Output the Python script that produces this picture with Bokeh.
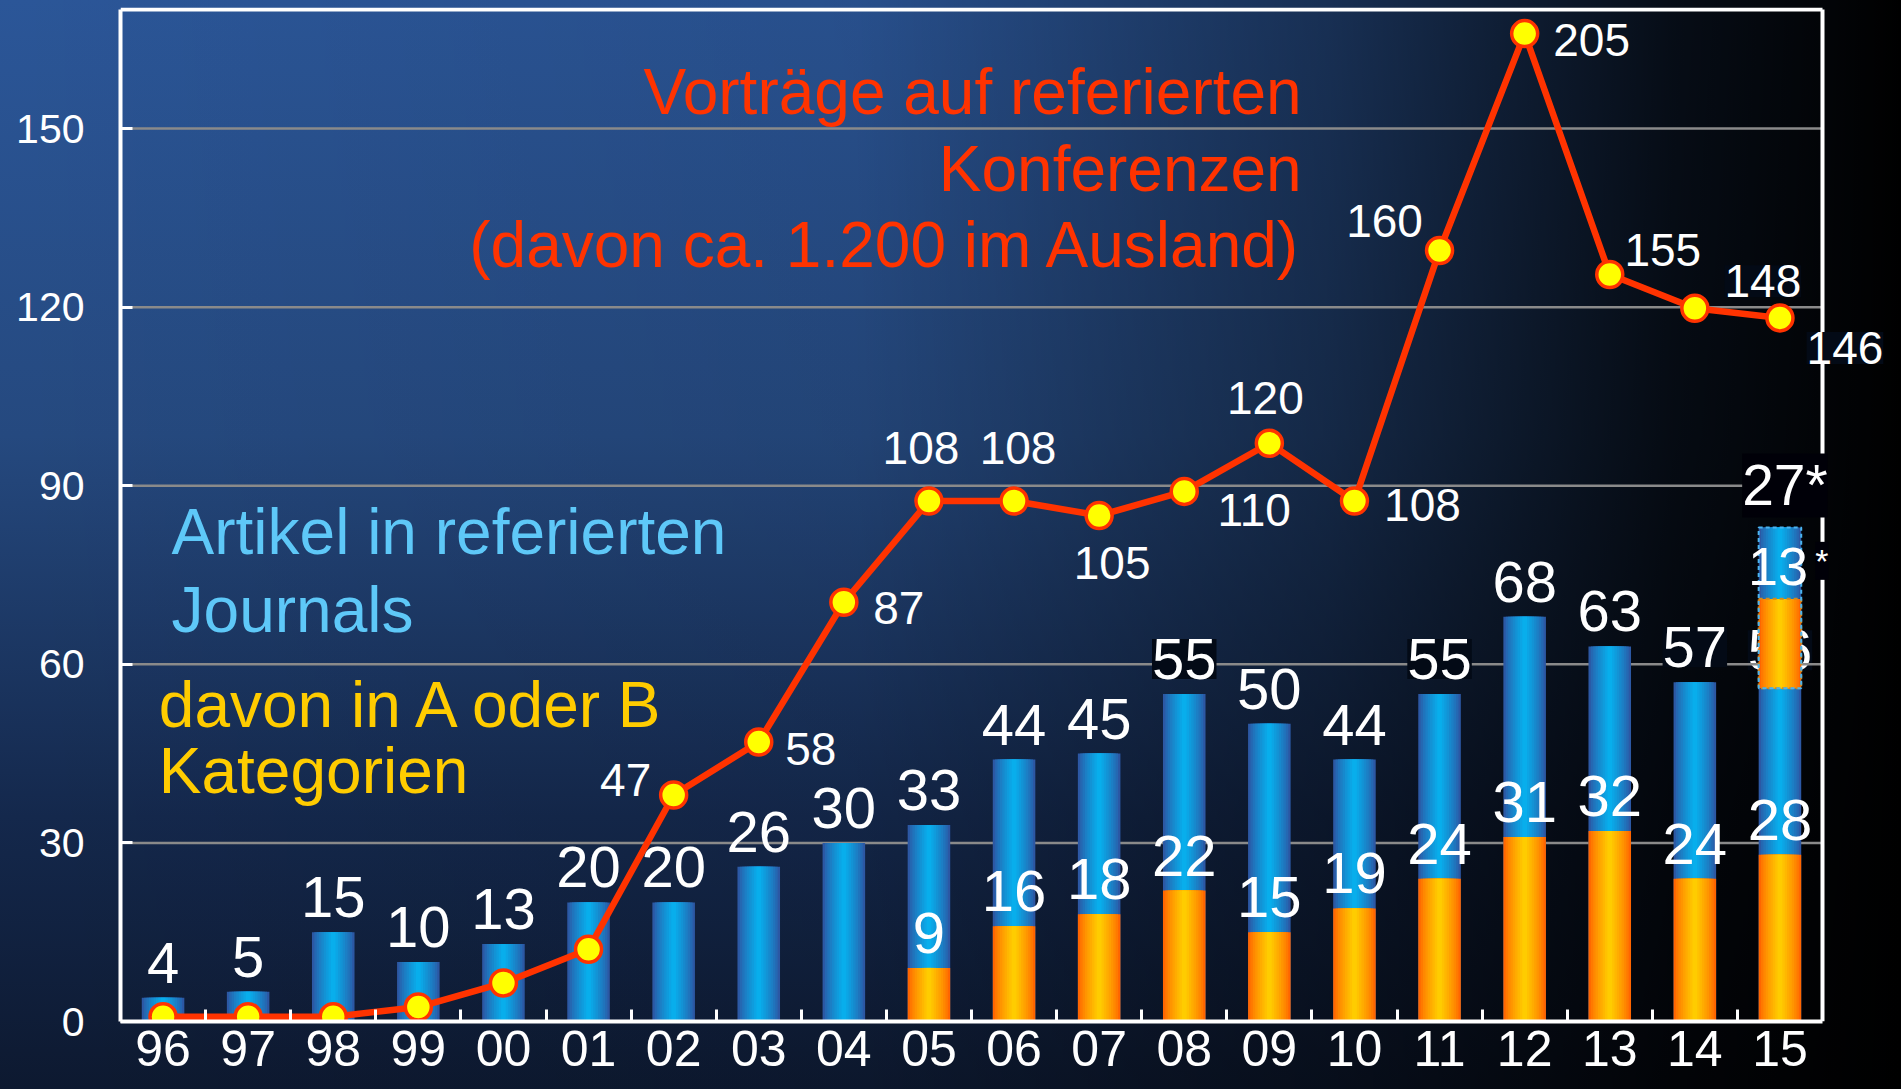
from bokeh.plotting import figure
from bokeh.models import ColumnDataSource, Range1d, FixedTicker, LabelSet
from bokeh.core.properties import value
from bokeh.embed import file_html
from bokeh.resources import INLINE

# ---------------- data ----------------
years = ["96", "97", "98", "99", "00", "01", "02", "03", "04", "05",
         "06", "07", "08", "09", "10", "11", "12", "13", "14", "15"]
articles = [4, 5, 15, 10, 13, 20, 20, 26, 30, 33, 44, 45, 55, 50, 44, 55, 68, 63, 57, 56]
articles_ab = [0, 0, 0, 0, 0, 0, 0, 0, 0, 9, 16, 18, 22, 15, 19, 24, 31, 32, 24, 28]
talks = [1, 1, 1, 3, 8, 15, 47, 58, 87, 108, 108, 105, 110, 120, 108, 160, 205, 155, 148, 146]
talk_labels = ["", "", "", "", "", "", "47", "58", "87", "108", "108", "105", "110",
               "120", "108", "160", "205", "155", "148", "146"]
proj_ab_extra = 15      # dashed orange segment on the 2015 bar
proj_rest_extra = 12    # dashed blue segment on the 2015 bar
proj_total_label = "27*"
proj_ab_label = "13*"
y_ticks = [0, 30, 60, 90, 120, 150]
y_max = 170
conf_max = 210

conf_title = ["Vorträge auf referierten", "Konferenzen", "(davon ca. 1.200 im Ausland)"]
art_title = ["Artikel in referierten", "Journals"]
ab_title = ["davon in A oder B", "Kategorien"]

# ---------------- style ----------------
FONT = value("Liberation Sans")
BAR_W = 0.5
BLUE_EDGE, BLUE_CENTER = (0x2c, 0x58, 0xa4), (0x08, 0xae, 0xec)
ORANGE_EDGE, ORANGE_CENTER = (0xff, 0x66, 0x00), (0xff, 0xcc, 0x00)
RED = "#ff3300"

# label placement (screen px offsets, style only)
talk_dx = [0, 0, 0, 0, 0, 0, -48, 52, 55, -8, 4, 13, 70, -4, 68, -55, 67, 53, 68, 65]
talk_dy = [0, 0, 0, 0, 0, 0, 15, -7, -6, 53, 53, -47, -19, 45, -4, 29, -6, 25, 27, -30]
talk_bg = [0, 0, 0, 0, 0, 0, 0, 0, 0, 0, 0, 0, 0, 0, 0, 0, 0, 0, 1, 1]
art_bg = [0, 0, 0, 0, 0, 0, 0, 0, 0, 0, 0, 0, 1, 0, 0, 1, 0, 0, 1, 1]

n = len(years)
xs = list(range(n))
last = n - 1

PX_PER_X = 85.1          # frame px per category
EXTRA_RIGHT = 79 / PX_PER_X   # room right of the white border for labels
PX_PER_Y = 1012 / y_max

p = figure(width=1901, height=1089,
           x_range=Range1d(-0.5, n - 0.5 + EXTRA_RIGHT),
           y_range=Range1d(0, y_max + 2 / PX_PER_Y),
           output_backend="svg", toolbar_location=None,
           min_border_left=120, min_border_right=0,
           min_border_top=7, min_border_bottom=68)
p.extra_y_ranges = {"conf": Range1d(0, conf_max * (y_max + 2 / PX_PER_Y) / y_max)}

p.background_fill_color = None
p.border_fill_color = None
p.outline_line_color = None
p.styles = {"background":
            "linear-gradient(to right, rgba(0,0,0,0) 0%, rgba(0,0,0,0.08) 45%, "
            "rgba(0,0,0,0.45) 70%, rgba(0,0,0,0.85) 88%, rgba(0,0,0,1) 100%), "
            "linear-gradient(to bottom, #2b5698 0%, #25497f 40%, #14284c 75%, #0d1930 100%)"}

# horizontal grid lines, limited to the framed area
grid_y = y_ticks[1:]
p.segment(x0=[-0.5] * len(grid_y), x1=[n - 0.5] * len(grid_y), y0=grid_y, y1=grid_y,
          line_color="#8a8a8a", line_width=2.5)


def mix(a, b, t):
    return "#%02x%02x%02x" % tuple(int(round(a[i] + (b[i] - a[i]) * t)) for i in range(3))


def grad_bars(src, top, bottom, edge, center, layers=9):
    for k in range(layers):
        t = k / (layers - 1)
        w = BAR_W * (1 - k / layers)
        p.vbar(x="x", top=top, bottom=bottom, width=w, source=src,
               fill_color=mix(edge, center, t ** 0.8), line_color=None)


zeros = [0] * n
bar_src = ColumnDataSource(dict(x=xs, total=articles, ab=articles_ab, zero=zeros))
grad_bars(bar_src, "total", "zero", BLUE_EDGE, BLUE_CENTER)
grad_bars(bar_src, "ab", "zero", ORANGE_EDGE, ORANGE_CENTER)

# projected part of the last bar
proj_src = ColumnDataSource(dict(
    x=[last],
    b=[articles[last]],
    m=[articles[last] + proj_ab_extra],
    t=[articles[last] + proj_ab_extra + proj_rest_extra]))

DARK = "#030a16"
# label of the last bar sits under the projection box
hidden_src = ColumnDataSource(dict(x=[last], y=[articles[last]], text=[str(articles[last])]))
p.add_layout(LabelSet(x="x", y="y", text="text", source=hidden_src, level="underlay",
                      text_font=FONT, text_font_size="58px", text_color="white",
                      text_align="center", text_baseline="alphabetic", y_offset=18,
                      background_fill_color=DARK))

grad_bars(proj_src, "m", "b", ORANGE_EDGE, ORANGE_CENTER)
grad_bars(proj_src, "t", "m", BLUE_EDGE, BLUE_CENTER)
p.vbar(x="x", top="m", bottom="b", width=BAR_W, source=proj_src, fill_color=None,
       line_color="#d08a20", line_width=2, line_dash="4 3")
p.vbar(x="x", top="t", bottom="b", width=BAR_W, source=proj_src, fill_color=None,
       line_color="#4ab4f0", line_width=2, line_dash="4 3")

# white frame: top and right edges (left / bottom come from the axes)
p.segment(x0=[-0.5, n - 0.5], y0=[y_max, 0], x1=[n - 0.5, n - 0.5], y1=[y_max, y_max],
          line_color="white", line_width=4)

# conference talks line (secondary scale)
line_src = ColumnDataSource(dict(x=xs, y=talks))
p.line(x="x", y="y", source=line_src, y_range_name="conf", line_color=RED, line_width=6.5)
p.scatter(x="x", y="y", source=line_src, y_range_name="conf", size=26,
          fill_color="#ffff00", line_color=RED, line_width=3.5)

# ---------------- axes ----------------
p.yaxis.ticker = FixedTicker(ticks=y_ticks)
p.yaxis.bounds = (0, y_max)
p.yaxis.major_label_text_font = "Liberation Sans"
p.yaxis.major_label_text_font_size = "41px"
p.yaxis.major_label_text_color = "white"
p.yaxis.major_label_standoff = 36
p.yaxis.major_tick_in = 12
p.yaxis.major_tick_out = 0
p.yaxis.major_tick_line_color = "white"
p.yaxis.major_tick_line_width = 3
p.yaxis.minor_tick_line_color = None
p.yaxis.axis_line_color = "white"
p.yaxis.axis_line_width = 4

p.xaxis.ticker = FixedTicker(ticks=xs, minor_ticks=[i + 0.5 for i in range(n - 1)])
p.xaxis.bounds = (-0.5, n - 0.5)
p.xaxis.major_label_overrides = {i: y for i, y in enumerate(years)}
p.xaxis.major_label_text_font = "Liberation Sans"
p.xaxis.major_label_text_font_size = "50px"
p.xaxis.major_label_text_color = "white"
p.xaxis.major_label_standoff = 9
p.xaxis.major_tick_line_color = None
p.xaxis.major_tick_in = 0
p.xaxis.major_tick_out = 0
p.xaxis.minor_tick_in = 12
p.xaxis.minor_tick_out = 0
p.xaxis.minor_tick_line_color = "white"
p.xaxis.minor_tick_line_width = 3
p.xaxis.axis_line_color = "white"
p.xaxis.axis_line_width = 4

p.xgrid.visible = False
p.ygrid.visible = False

# ---------------- value labels ----------------
vis = [i for i in xs if i != last]
art_src = ColumnDataSource(dict(x=vis, y=[articles[i] for i in vis],
                                text=[str(articles[i]) for i in vis],
                                bga=[art_bg[i] for i in vis]))
p.add_layout(LabelSet(x="x", y="y", text="text", source=art_src,
                      text_font=FONT, text_font_size="58px", text_color="white",
                      text_align="center", text_baseline="alphabetic", y_offset=15,
                      background_fill_color=DARK, background_fill_alpha="bga"))

abi = [i for i in xs if articles_ab[i] > 0]
ab_src = ColumnDataSource(dict(x=abi, y=[articles_ab[i] for i in abi],
                               text=[str(articles_ab[i]) for i in abi]))
p.add_layout(LabelSet(x="x", y="y", text="text", source=ab_src,
                      text_font=FONT, text_font_size="58px", text_color="white",
                      text_align="center", text_baseline="alphabetic", y_offset=15))

ti = [i for i in xs if talk_labels[i]]
talk_src = ColumnDataSource(dict(x=ti, y=[talks[i] for i in ti],
                                 text=[talk_labels[i] for i in ti],
                                 dx=[talk_dx[i] for i in ti], dy=[talk_dy[i] for i in ti],
                                 bga=[talk_bg[i] for i in ti]))
p.add_layout(LabelSet(x="x", y="y", text="text", source=talk_src, y_range_name="conf",
                      x_offset="dx", y_offset="dy",
                      text_font=FONT, text_font_size="46px", text_color="white",
                      text_align="center", text_baseline="middle",
                      background_fill_color=DARK, background_fill_alpha="bga"))

# projection labels
proj_lab_src = ColumnDataSource(dict(
    x=[last, last],
    y=[articles[last] + proj_ab_extra + proj_rest_extra, articles[last] + proj_ab_extra],
    text=[proj_total_label, proj_ab_label[:-1]],
    dx=[5, -2], dy=[22, 14], size=["57px", "54px"], bga=[1, 0]))
p.add_layout(LabelSet(x="x", y="y", text="text", source=proj_lab_src,
                      x_offset="dx", y_offset="dy", text_font_size="size",
                      text_font=FONT, text_color="white",
                      text_align="center", text_baseline="alphabetic",
                      background_fill_color="#000008", background_fill_alpha="bga"))
star_src = ColumnDataSource(dict(x=[last], y=[articles[last] + proj_ab_extra],
                                 text=[proj_ab_label[-1]]))
p.add_layout(LabelSet(x="x", y="y", text="text", source=star_src,
                      x_offset=42, y_offset=38, text_font_size="34px",
                      text_font=FONT, text_color="white",
                      text_align="center", text_baseline="middle",
                      background_fill_color="#000008"))


# ---------------- series titles ----------------
def title_block(lines, x, y0, step, color, align):
    src = ColumnDataSource(dict(x=[x] * len(lines),
                                y=[y0 - step * i for i in range(len(lines))],
                                text=lines))
    p.add_layout(LabelSet(x="x", y="y", text="text", source=src,
                          text_font=FONT, text_font_size="64px", text_color=color,
                          text_align=align, text_baseline="middle"))


title_block(conf_title, 13.38, 156.1, 12.85, RED, "right")
title_block(art_title, 0.10, 82.3, 13.1, "#5ec8f8", "left")
title_block(ab_title, -0.05, 53.2, 11.2, "#ffcc00", "left")

open("out.html", "w").write(file_html(p, INLINE))
